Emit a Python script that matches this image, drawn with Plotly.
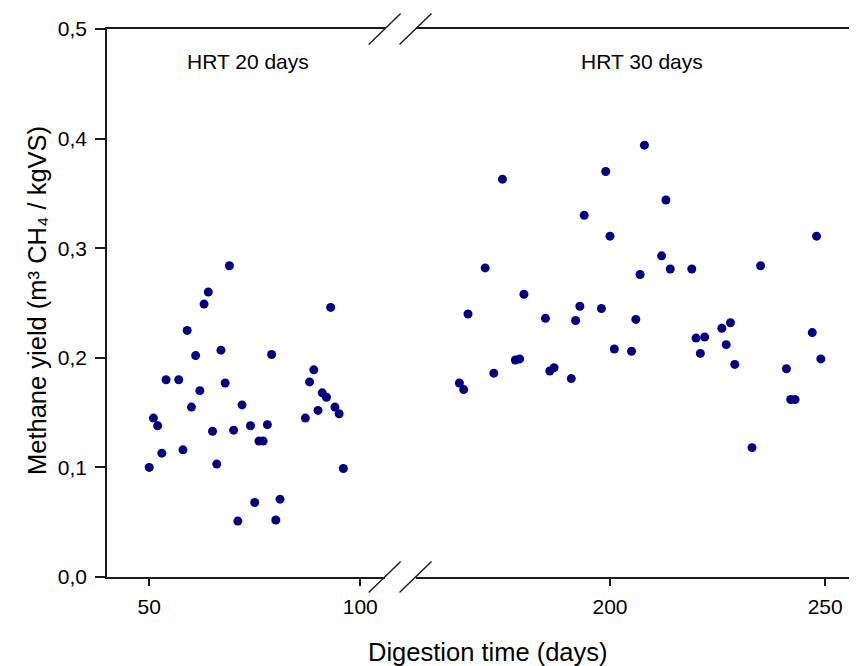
import plotly.graph_objects as go

# ---- data ----
hrt20_days = [50, 51, 52, 53, 54, 57, 58, 59, 60, 61, 62, 63, 64, 65, 66, 67, 68, 69, 70,
              71, 72, 74, 75, 76, 77, 78, 79, 80, 81, 87, 88, 89, 90, 91, 92, 93, 94, 95, 96]
hrt20_yield = [0.100, 0.145, 0.138, 0.113, 0.180, 0.180, 0.116, 0.225, 0.155, 0.202,
               0.170, 0.249, 0.260, 0.133, 0.103, 0.207, 0.177, 0.284, 0.134, 0.051,
               0.157, 0.138, 0.068, 0.124, 0.124, 0.139, 0.203, 0.052, 0.071, 0.145,
               0.178, 0.189, 0.152, 0.168, 0.164, 0.246, 0.155, 0.149, 0.099]

hrt30_days = [165, 166, 167, 171, 173, 175, 178, 179, 180, 185, 186, 187, 191, 192, 193,
              194, 198, 199, 200, 201, 205, 206, 207, 208, 212, 213, 214, 219, 220, 221,
              222, 226, 227, 228, 229, 233, 235, 241, 242, 243, 247, 248, 249]
hrt30_yield = [0.177, 0.171, 0.240, 0.282, 0.186, 0.363, 0.198, 0.199, 0.258, 0.236,
               0.188, 0.191, 0.181, 0.234, 0.247, 0.330, 0.245, 0.370, 0.311, 0.208,
               0.206, 0.235, 0.276, 0.394, 0.293, 0.344, 0.281, 0.281, 0.218, 0.204,
               0.219, 0.227, 0.212, 0.232, 0.194, 0.118, 0.284, 0.190, 0.162, 0.162,
               0.223, 0.311, 0.199]

y_ticks = [0.0, 0.1, 0.2, 0.3, 0.4, 0.5]
y_tick_labels = ["0,0", "0,1", "0,2", "0,3", "0,4", "0,5"]
x_left_ticks = [50, 100]
x_right_ticks = [200, 250]

panel_labels = ["HRT 20 days", "HRT 30 days"]

# ---- layout constants (window pixels; page body has an 8px margin) ----
OFF = 8
WIN_W, WIN_H = 857, 666
PLOT_L, PLOT_R, PLOT_T, PLOT_B = 107, 857, 29, 577
W, H = WIN_W - OFF, WIN_H - OFF
ML, MR, MT, MB = PLOT_L - OFF, WIN_W - PLOT_R, PLOT_T - OFF, WIN_H - PLOT_B
PW, PH = PLOT_R - PLOT_L, PLOT_B - PLOT_T
left_dom = [0.0, (384.7 - PLOT_L) / PW]
right_dom = [(415.5 - PLOT_L) / PW, 1.0]

FONT = "Arial, 'Liberation Sans', Helvetica, sans-serif"
MARK = "#000080"
AX = "#1a1a1a"

fig = go.Figure()
fig.add_trace(go.Scatter(x=hrt20_days, y=hrt20_yield, mode="markers",
                         marker=dict(size=9, color=MARK), xaxis="x", yaxis="y",
                         showlegend=False))
fig.add_trace(go.Scatter(x=hrt30_days, y=hrt30_yield, mode="markers",
                         marker=dict(size=9, color=MARK), xaxis="x2", yaxis="y",
                         showlegend=False))

axis_common = dict(showline=True, linecolor=AX, linewidth=1.6, mirror=True,
                   ticks="outside", ticklen=7, tickwidth=1.6, tickcolor=AX,
                   showgrid=False, zeroline=False, automargin=False,
                   ticklabelstandoff=3,
                   tickfont=dict(family=FONT, size=21, color="black"))

fig.update_layout(
    width=W, height=H,
    margin=dict(l=ML, r=MR, t=MT, b=MB, pad=0, autoexpand=False),
    plot_bgcolor="white", paper_bgcolor="white",
    xaxis=dict(domain=left_dom, range=[40, 105.8], tickvals=x_left_ticks,
               anchor="y", **axis_common),
    xaxis2=dict(domain=right_dom, range=[154.8, 257.4], tickvals=x_right_ticks,
                anchor="y", **axis_common),
    yaxis=dict(range=[0, 0.5], tickvals=y_ticks, ticktext=y_tick_labels,
               showline=True, linecolor=AX, linewidth=1.6, mirror=False,
               ticks="outside", ticklen=10, tickwidth=1.6, tickcolor=AX,
               showgrid=False, zeroline=False, anchor="x", automargin=False,
               ticklabelstandoff=4,
               tickfont=dict(family=FONT, size=21, color="black")),
)

# panel labels
fig.add_annotation(x=73.3, y=0.4705, xref="x", yref="y", text=panel_labels[0],
                   xanchor="center", yanchor="middle",
                   showarrow=False, font=dict(family=FONT, size=21, color="black"))
fig.add_annotation(x=207.4, y=0.4705, xref="x2", yref="y", text=panel_labels[1],
                   xanchor="center", yanchor="middle",
                   showarrow=False, font=dict(family=FONT, size=21, color="black"))

# axis titles
fig.add_annotation(x=(487.5 - PLOT_L) / PW, y=(PLOT_B - 652) / PH, xref="paper", yref="paper",
                   text="Digestion time (days)", showarrow=False,
                   xanchor="center", yanchor="middle",
                   font=dict(family=FONT, size=25.5, color="black"))
fig.add_annotation(x=(37 - PLOT_L) / PW, y=(PLOT_B - 301) / PH, xref="paper", yref="paper",
                   text="Methane yield (m³ CH₄ / kgVS)", textangle=-90, showarrow=False,
                   xanchor="center", yanchor="middle",
                   font=dict(family=FONT, size=25.5, color="black"))

# axis break marks (double slashes) at bottom and top
dx, dy = 16.0 / PW, 15.6 / PH
for cx in (left_dom[1], right_dom[0]):
    for cy in (0.0, 1.0):
        fig.add_shape(type="line", xref="paper", yref="paper",
                      x0=cx - dx, y0=cy - dy, x1=cx + dx, y1=cy + dy,
                      line=dict(color=AX, width=1.4))

fig.write_html("out.html")
